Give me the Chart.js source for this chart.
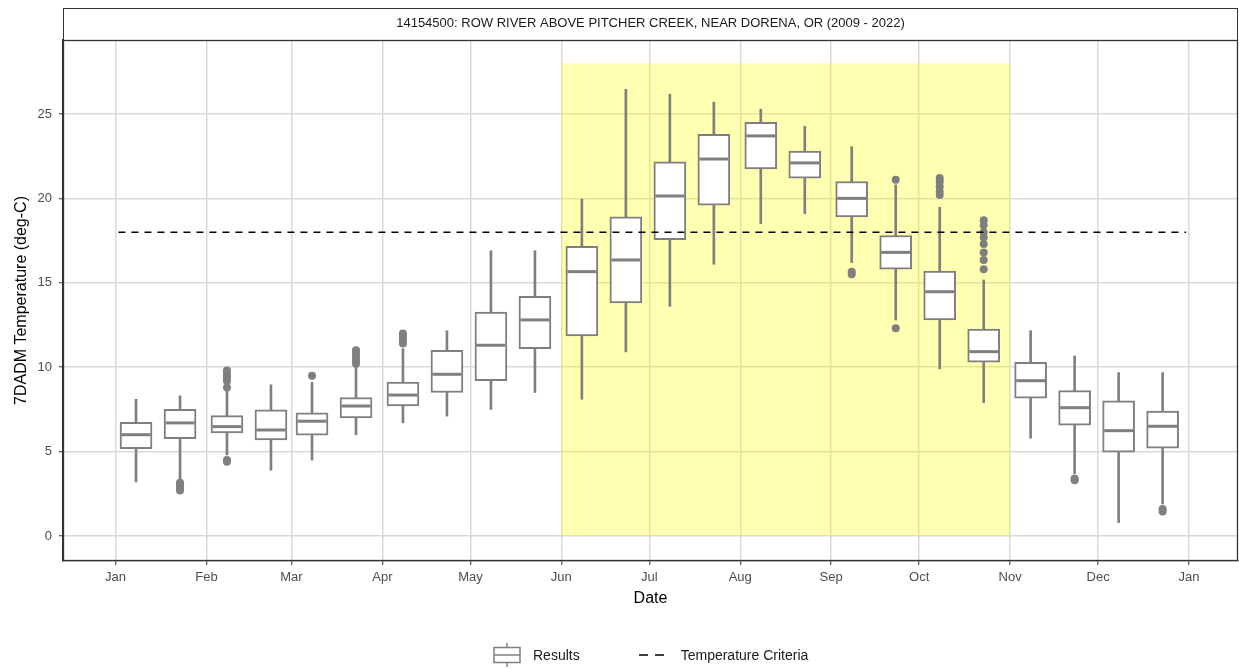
<!DOCTYPE html>
<html>
<head>
<meta charset="utf-8">
<script src="https://cdn.jsdelivr.net/npm/chart.js@4.4.1/dist/chart.umd.min.js"></script>
<style>
  html, body { margin: 0; padding: 0; background: #fff; }
  #wrap { position: relative; width: 1239px; height: 669px; }
  #legend { position: absolute; top: 643px; left: 493px; height: 24px; display: flex; align-items: center;
            font-family: "Liberation Sans", Arial, sans-serif; font-size: 14px; color: #1a1a1a; }
  #legend .item { display: flex; align-items: center; }
  #legend svg { display: block; }
</style>
</head>
<body>
<div id="wrap">
  <canvas id="chart1" width="1239" height="669"></canvas>
  <div id="legend"></div>
</div>
<script>
(function() {
    /*Data*/
    var stationTitle = '14154500: ROW RIVER ABOVE PITCHER CREEK, NEAR DORENA, OR (2009 - 2022)';
    var monthDays = [0, 31, 60, 91, 121, 152, 182, 213, 244, 274, 305, 335, 366];
    var monthLabels = ['Jan', 'Feb', 'Mar', 'Apr', 'May', 'Jun', 'Jul', 'Aug', 'Sep', 'Oct', 'Nov', 'Dec', 'Jan'];

    /*Boxes sit on the 8th and 23rd of each month (day of year)*/
    var boxDays = [7, 22, 38, 53, 67, 82, 98, 113, 128, 143, 159, 174,
                   189, 204, 220, 235, 251, 266, 281, 296, 312, 327, 342, 357];
    var whiskerLow  = [3.2, 3.3, 4.8, 3.9, 4.5, 6.0, 6.7, 7.1, 7.5, 8.5, 8.1, 10.9,
                       13.6, 16.1, 18.5, 19.1, 16.2, 12.8, 9.9, 7.9, 5.8, 3.7, 0.8, 1.9];
    var q1          = [5.17, 5.77, 6.1, 5.69, 5.98, 7.0, 7.7, 8.5, 9.2, 11.1, 11.85, 13.8,
                       17.55, 19.6, 21.75, 21.2, 18.9, 15.8, 12.8, 10.29, 8.16, 6.56, 4.96, 5.2];
    var median      = [6.0, 6.7, 6.48, 6.28, 6.8, 7.7, 8.35, 9.58, 11.3, 12.8, 15.66, 16.35,
                       20.14, 22.33, 23.7, 22.1, 20.0, 16.8, 14.47, 10.92, 9.2, 7.6, 6.24, 6.5];
    var q3          = [6.73, 7.5, 7.13, 7.48, 7.29, 8.2, 9.12, 11.0, 13.27, 14.2, 17.16, 18.9,
                       22.16, 23.8, 24.5, 22.8, 21.0, 17.8, 15.7, 12.26, 10.29, 8.61, 8.0, 7.4];
    var whiskerHigh = [8.1, 8.3, 8.6, 8.96, 9.1, 10.0, 11.1, 12.16, 16.9, 16.9, 19.96, 26.46,
                       26.17, 25.7, 25.28, 24.27, 23.06, 20.8, 19.47, 15.17, 12.16, 10.66, 9.68, 9.68];
    var outliers = [
        [], [3.15, 3.0, 2.85, 2.7], [9.8, 9.6, 9.4, 9.2, 8.8, 4.5, 4.4], [], [9.5], [11.0, 10.8, 10.6, 10.4, 10.2],
        [12.0, 11.8, 11.6, 11.4], [], [], [], [], [],
        [], [], [], [], [15.66, 15.5], [21.1, 12.3],
        [21.2, 21.0, 20.7, 20.4, 20.2], [18.7, 18.4, 18.0, 17.7, 17.3, 16.8, 16.35, 15.8], [], [3.4, 3.3], [], [1.6, 1.45]
    ];

    var criteriaValue = 18;
    var criteriaDays = [1, 365];
    var criticalPeriod = [152, 305];
    var criticalTop = 28;
    var legendLabels = ['Results', 'Temperature Criteria'];

    /*Styles*/
    var grey = '#7f7f7f';
    var fontFamily = '"Liberation Sans", Arial, sans-serif';

    /*Utils*/
    var pairs = function(lo, hi) {
        return boxDays.map(function(d, i) { return {x: d, y: [lo[i], hi[i]]}; });
    };
    var outlierPoints = [];
    outliers.forEach(function(list, i) {
        list.forEach(function(v) { outlierPoints.push({x: boxDays[i], y: v}); });
    });

    /*Panel decorations: yellow window, panel border, strip box*/
    var panelPlugin = {
        id: 'panel',
        beforeDatasetsDraw: function(chart) {
            var x = chart.scales.x, y = chart.scales.y, ctx = chart.ctx, a = chart.chartArea;
            var left = x.getPixelForValue(criticalPeriod[0]);
            var right = x.getPixelForValue(criticalPeriod[1]);
            var top = y.getPixelForValue(criticalTop);
            var bottom = y.getPixelForValue(0);
            ctx.save();
            ctx.beginPath();
            ctx.rect(a.left, a.top, a.right - a.left, a.bottom - a.top);
            ctx.clip();
            ctx.fillStyle = 'rgba(255,255,0,0.3)';
            ctx.fillRect(left, top, right - left, bottom - top);
            ctx.restore();
        },
        afterDraw: function(chart) {
            var ctx = chart.ctx, a = chart.chartArea;
            ctx.save();
            ctx.strokeStyle = '#333333';
            ctx.lineWidth = 1;
            ctx.strokeRect(Math.round(a.left) + 0.5, 8.5, Math.round(a.right - a.left) - 1, Math.round(a.top) - 8);
            ctx.lineWidth = 1.3;
            ctx.strokeRect(Math.round(a.left) + 0.5, Math.round(a.top) + 0.5, Math.round(a.right - a.left) - 1, Math.round(a.bottom - a.top) - 1);
            ctx.restore();
        }
    };

    var gridOpts = {color: '#d9d9d9', lineWidth: 1.5, tickLength: 4, tickColor: '#333333', tickWidth: 1, offset: false};
    var tickFont = {family: fontFamily, size: 13};

    var ctx = document.getElementById('chart1').getContext('2d');
    var chart1 = new Chart(ctx, {
        type: 'bar',
        data: {
            datasets: [
                {
                    type: 'line', label: legendLabels[1],
                    data: criteriaDays.map(function(d) { return {x: d, y: criteriaValue}; }),
                    borderColor: '#000', borderWidth: 1.5, borderDash: [7, 6], pointRadius: 0, fill: false
                },
                {
                    type: 'scatter', label: 'Outliers', data: outlierPoints,
                    pointRadius: 4, backgroundColor: grey, borderWidth: 0
                },
                {
                    type: 'scatter', label: 'Median',
                    data: boxDays.map(function(d, i) { return {x: d, y: median[i]}; }),
                    pointStyle: 'line', pointRadius: 14.5, borderColor: grey, borderWidth: 3
                },
                {
                    label: legendLabels[0], data: pairs(q1, q3), grouped: false,
                    backgroundColor: '#ffffff', borderColor: grey, borderWidth: 2, borderSkipped: false, barThickness: 32
                },
                {
                    label: 'Whiskers', data: pairs(whiskerLow, whiskerHigh), grouped: false,
                    backgroundColor: grey, borderWidth: 0, barThickness: 2
                }
            ]
        },
        options: {
            responsive: false,
            animation: false,
            events: [],
            layout: {autoPadding: false, padding: {top: 8, right: 1, bottom: 61, left: 0}},
            plugins: {
                legend: {display: false},
                tooltip: {enabled: false},
                title: {
                    display: true, text: stationTitle, fullSize: false, color: '#1a1a1a',
                    font: {family: fontFamily, size: 13, weight: 'normal'}, padding: {top: 8, bottom: 8.4}
                }
            },
            scales: {
                x: {
                    type: 'linear', min: -17.9, max: 382.7, offset: false,
                    afterBuildTicks: function(scale) {
                        scale.ticks = monthDays.map(function(v) { return {value: v}; });
                    },
                    afterFit: function(scale) {
                        scale.height = 47;
                        scale.paddingLeft = 0;
                        scale.paddingRight = 0;
                    },
                    ticks: {
                        autoSkip: false, maxRotation: 0, color: '#4d4d4d', font: tickFont, padding: 5,
                        callback: function(value, index) { return monthLabels[index]; }
                    },
                    grid: gridOpts,
                    border: {color: '#333333', width: 1.3},
                    title: {display: true, text: 'Date', color: '#000', font: {family: fontFamily, size: 16}, padding: {top: 2, bottom: 0}}
                },
                y: {
                    min: -1.48, max: 29.38,
                    afterFit: function(scale) { scale.width = 63; },
                    ticks: {stepSize: 5, includeBounds: false, color: '#4d4d4d', font: tickFont, padding: 7},
                    grid: gridOpts,
                    border: {color: '#333333', width: 1.3},
                    title: {display: true, text: '7DADM Temperature (deg-C)', color: '#000', font: {family: fontFamily, size: 16}, padding: {top: 12, bottom: 0}}
                }
            }
        },
        plugins: [panelPlugin]
    });

    /*Legend*/
    var glyphs = [
        '<svg width="28" height="24"><line x1="14" y1="0" x2="14" y2="24" stroke="' + grey + '" stroke-width="1.5"/>' +
        '<rect x="1" y="4.5" width="26" height="15" fill="#fff" stroke="' + grey + '" stroke-width="1.5"/>' +
        '<line x1="1" y1="12" x2="27" y2="12" stroke="' + grey + '" stroke-width="1.5"/></svg>',
        '<svg width="28" height="24"><line x1="0" y1="12" x2="26" y2="12" stroke="#000" stroke-width="1.5" stroke-dasharray="9,7"/></svg>'
    ];
    var legend = document.getElementById('legend');
    legendLabels.forEach(function(label, i) {
        var item = document.createElement('div');
        item.className = 'item';
        item.style.marginLeft = i ? '59px' : '0';
        item.innerHTML = glyphs[i] + '<span style="margin-left:' + (i ? 14 : 12) + 'px">' + label + '</span>';
        legend.appendChild(item);
    });
}());
</script>
</body>
</html>
